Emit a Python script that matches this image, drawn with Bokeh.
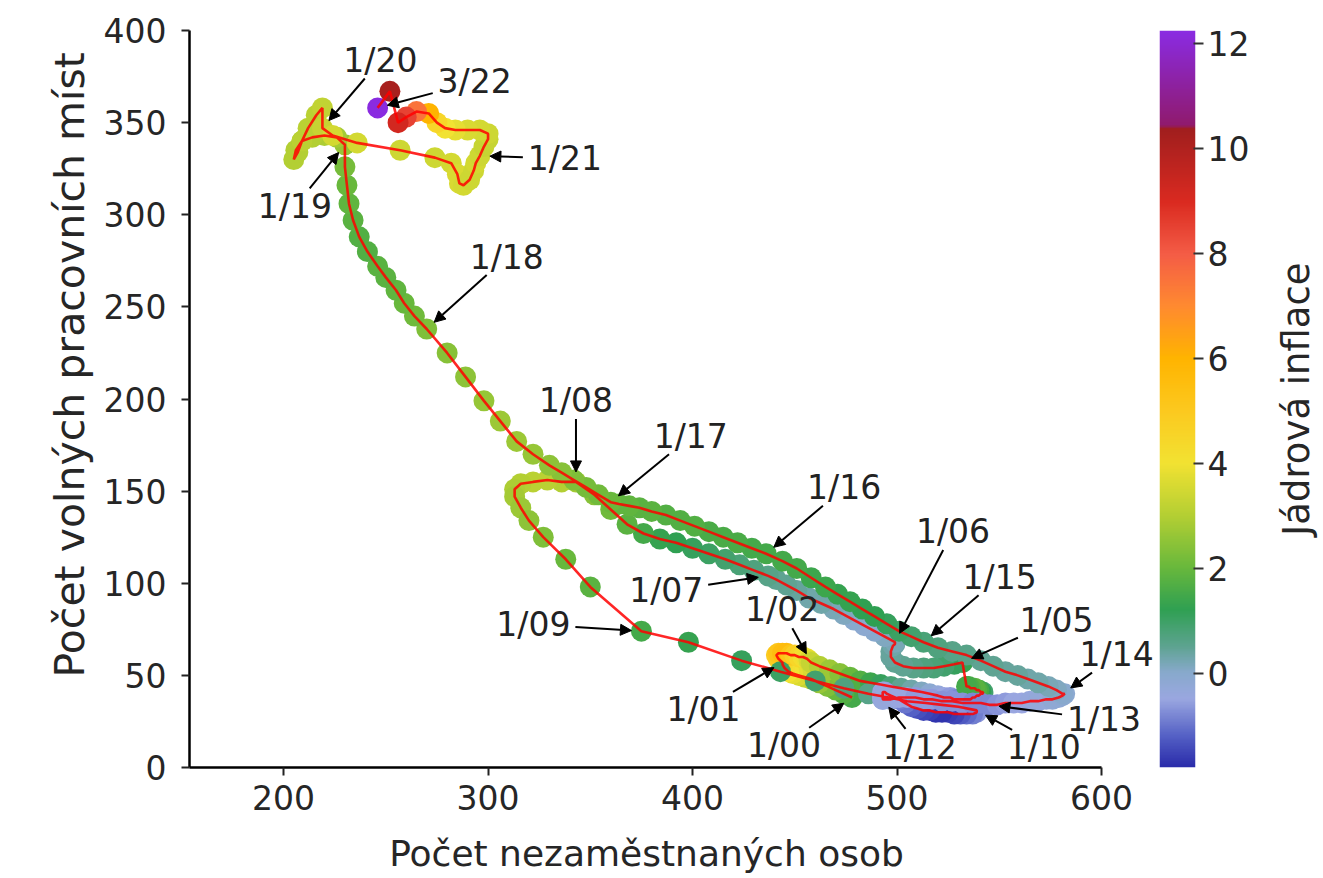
import numpy as np
from bokeh.plotting import figure
from bokeh.models import (ColumnDataSource, LinearColorMapper, Range1d, FixedTicker,
                          Arrow, NormalHead, Label, Title)
from bokeh.layouts import row
from bokeh.embed import file_html
from bokeh.resources import INLINE

# ---------------- data (monthly, 1/2000 .. 3/2022) ----------------
# unemployed persons (thousands)
unemployed = [
    478, 474, 470, 466, 462, 458, 455, 452, 449, 447, 445, 444,   # 2000
    444, 442, 441, 442, 444, 446, 448, 450, 452, 454, 456, 457,   # 2001
    458, 462, 467, 472, 477, 482, 487, 492, 497, 502, 507, 512,   # 2002
    516, 520, 523, 526, 528, 530, 532, 534, 536, 537, 538, 539,   # 2003
    540, 541, 542, 542, 541, 540, 539, 538, 537, 536, 535, 534,   # 2004
    532, 528, 523, 518, 513, 508, 503, 499, 497, 497, 498, 499,   # 2005
    499, 494, 489, 484, 479, 474, 469, 463, 457, 451, 446, 441,   # 2006
    437, 430, 423, 416, 408, 400, 392, 384, 376, 368, 360, 352,   # 2007
    343, 336, 329, 322, 316, 313, 313, 316, 320, 327, 338, 350,   # 2008
    375, 398, 424, 443, 460, 474, 486, 496, 505, 514, 522, 530,   # 2009
    539, 539, 537, 534, 531, 528, 525, 522, 519, 516, 513, 510,   # 2010
    507, 504, 501, 499, 497, 495, 494, 493, 493, 493, 493, 493,   # 2011
    493, 497, 501, 505, 509, 513, 517, 522, 527, 532, 537, 541,   # 2012
    545, 549, 553, 557, 561, 565, 569, 573, 576, 579, 581, 582,   # 2013
    581, 578, 574, 569, 564, 559, 553, 547, 541, 534, 527, 520,   # 2014
    513, 507, 501, 495, 489, 483, 477, 471, 465, 458, 451, 444,   # 2015
    436, 429, 422, 415, 408, 401, 394, 387, 380, 374, 369, 364,   # 2016
    360, 354, 348, 342, 336, 330, 322, 314, 306, 298, 289, 280,   # 2017
    270, 264, 259, 255, 250, 246, 241, 237, 234, 232, 231, 230,   # 2018
    230, 226, 220, 214, 209, 206, 205, 207, 209, 212, 216, 219,   # 2019
    219, 224, 236, 257, 274, 282, 285, 286, 288, 291, 293, 294,   # 2020
    296, 298, 300, 300, 296, 290, 284, 279, 275, 271, 265, 260,   # 2021
    256, 252, 246,                                                # 2022
]
# vacancies (thousands)
vacancies = [
    38, 40, 42, 44, 46, 48, 49, 50, 51, 52, 54, 56,
    57, 59, 61, 62, 62, 62, 61, 61, 60, 60, 59, 58,
    57, 55, 53, 51, 49, 47, 46, 45, 44, 43, 42, 41,
    40, 39, 38, 38, 37, 37, 37, 37, 37, 38, 38, 39,
    39, 40, 40, 41, 41, 42, 42, 43, 43, 43, 44, 44,
    57, 56, 55, 54, 54, 54, 55, 57, 60, 63, 66, 67,
    68, 71, 74, 77, 80, 83, 86, 89, 92, 96, 99, 102,
    104, 107, 110, 113, 116, 119, 122, 124, 127, 132, 140, 148,
    155, 155, 156, 155, 154, 151, 147, 141, 134, 125, 113, 98,
    74, 68, 58, 52, 47, 43, 40, 38, 36, 35, 34, 33,
    31, 30, 29, 29, 29, 29, 30, 30, 30, 31, 31, 32,
    33, 35, 37, 38, 39, 40, 41, 41, 40, 39, 38, 37,
    37, 37, 38, 38, 38, 37, 37, 36, 36, 35, 35, 35,
    34, 34, 35, 35, 35, 36, 36, 37, 37, 38, 39, 40,
    40, 42, 44, 46, 48, 50, 52, 55, 58, 61, 63, 65,
    68, 71, 74, 78, 82, 86, 90, 94, 98, 103, 108, 112,
    116, 119, 122, 125, 128, 131, 134, 137, 139, 141, 142, 143,
    144, 148, 152, 156, 160, 164, 170, 177, 188, 199, 212, 225,
    238, 245, 252, 259, 266, 272, 280, 288, 297, 306, 316, 326,
    338, 342, 343, 342, 340, 335, 330, 334, 340, 347, 354, 358,
    347, 343, 339, 335, 331, 328, 322, 317, 316, 319, 324, 328,
    332, 337, 341, 344, 346, 346, 346, 347, 350, 355, 356, 353,
    350, 367, 358,
]
# core inflation (%)
core_inflation = [
    1.5, 1.7, 2.0, 2.3, 2.6, 3.0, 3.3, 3.6, 3.8, 4.0, 4.1, 4.2,
    4.4, 4.6, 4.9, 5.2, 5.5, 5.6, 5.2, 4.8, 4.5, 4.2, 3.9, 3.6,
    3.3, 3.0, 2.7, 2.4, 2.0, 1.7, 1.4, 1.1, 0.8, 0.5, 0.3, 0.1,
    -0.1, -0.3, -0.5, -0.6, -0.7, -0.8, -0.8, -0.7, -0.6, -0.5, -0.3, -0.2,
    0.0, 0.3, 0.6, 0.9, 1.2, 1.5, 1.7, 1.8, 1.8, 1.7, 1.6, 1.5,
    1.3, 1.1, 0.9, 0.8, 0.7, 0.6, 0.5, 0.5, 0.4, 0.4, 0.3, 0.3,
    0.2, 0.1, 0.0, -0.1, 0.0, 0.1, 0.2, 0.3, 0.3, 0.4, 0.5, 0.5,
    0.6, 0.7, 0.8, 0.9, 1.0, 1.1, 1.2, 1.3, 1.5, 1.8, 2.1, 2.4,
    2.8, 3.0, 3.1, 3.1, 3.0, 2.9, 2.8, 2.7, 2.5, 2.3, 2.0, 1.8,
    1.5, 1.3, 1.1, 1.0, 0.9, 0.7, 0.6, 0.5, 0.3, 0.1, -0.1, -0.3,
    -0.5, -0.7, -0.9, -1.1, -1.3, -1.5, -1.6, -1.7, -1.7, -1.6, -1.5, -1.4,
    -1.2, -1.0, -0.9, -0.8, -0.7, -0.6, -0.6, -0.5, -0.5, -0.4, -0.4, -0.4,
    -0.4, -0.4, -0.5, -0.5, -0.6, -0.6, -0.6, -0.7, -0.7, -0.7, -0.8, -0.8,
    -0.8, -0.7, -0.6, -0.5, -0.5, -0.4, -0.3, -0.3, -0.2, -0.2, -0.1, -0.1,
    0.0, 0.1, 0.2, 0.3, 0.3, 0.4, 0.4, 0.5, 0.5, 0.6, 0.6, 0.7,
    0.8, 0.9, 1.0, 1.1, 1.2, 1.2, 1.3, 1.3, 1.4, 1.4, 1.5, 1.5,
    1.5, 1.5, 1.6, 1.6, 1.6, 1.7, 1.7, 1.7, 1.8, 1.8, 1.9, 1.9,
    2.0, 2.1, 2.2, 2.3, 2.4, 2.5, 2.6, 2.7, 2.7, 2.6, 2.5, 2.4,
    2.3, 2.1, 2.0, 1.9, 1.8, 1.8, 1.7, 1.7, 1.8, 1.9, 2.0, 2.2,
    2.6, 2.8, 2.9, 3.0, 3.0, 3.0, 3.0, 3.0, 3.1, 3.1, 3.1, 3.2,
    3.3, 3.5, 3.5, 3.4, 3.4, 3.5, 3.6, 3.6, 3.5, 3.4, 3.4, 3.5,
    3.4, 3.3, 3.3, 3.4, 3.5, 3.6, 3.8, 4.0, 4.5, 6.0, 7.5, 8.5,
    9.2, 10.2, 12.2,
]
start_year = 2000
month_labels = [f"{i % 12 + 1}/{(start_year + i // 12) % 100:02d}" for i in range(len(unemployed))]

ann_labels = ["1/00", "1/01", "1/02", "1/05", "1/06", "1/07", "1/08", "1/09", "1/10", "1/12",
              "1/13", "1/14", "1/15", "1/16", "1/17", "1/18", "1/19", "1/20", "1/21", "3/22"]

cbar_ticks = [0, 2, 4, 6, 8, 10, 12]
x_ticks = [200, 300, 400, 500, 600]
y_ticks = [0, 50, 100, 150, 200, 250, 300, 350, 400]

x_title = "Počet nezaměstnaných osob"
y_title = "Počet volných pracovních míst"
c_title = "Jádrová inflace"

# ---------------- style ----------------
FONT = "DejaVu Sans"
TXT = "#262626"
X0, X1, Y0, Y1 = 154, 600, 0, 400
C0, C1 = -1.8, 12.25
FW0, FH = 912, 738          # frame width of the 154..600 span, frame height
EXTRA = 56                  # free room right of x=600 for the labels
sx, sy = FW0 / (X1 - X0), FH / (Y1 - Y0)
XE = X1 + EXTRA / sx
FW = FW0 + EXTRA
H = 876
X_PAD = "\u2003\u2002"      # em + en space: keeps the x title centred on the 154..600 span

# label offsets (screen px, text centre relative to point; +y = down)
ann_offset = {
    "1/00": (-68, 48), "1/01": (-79, 47), "1/02": (-29, -53), "1/05": (94, -42),
    "1/06": (58, -111), "1/07": (-102, 15), "1/08": (0, -82), "1/09": (-108, -7),
    "1/10": (67, 37), "1/12": (37, 48), "1/13": (115, 15), "1/14": (54, -39),
    "1/15": (76, -65), "1/16": (78, -66), "1/17": (80, -66), "1/18": (80, -72),
    "1/19": (-50, 62), "1/20": (58, -68), "1/21": (85, 3), "3/22": (97, -26),
}

stops = [(-1.8, "#2a2caa"), (-1.2, "#5662c6"), (-0.5, "#9aa7e0"), (0.0, "#88a9cc"),
         (0.5, "#5da390"), (1.2, "#2fa052"), (2.0, "#68b83c"), (3.0, "#b4cf33"),
         (4.0, "#f2e232"), (5.0, "#fcc91f"), (6.0, "#ffb400"), (7.0, "#ff8a30"),
         (8.0, "#f45c46"), (9.0, "#da2a20"), (10.4, "#a01e1e"), (10.45, "#901a6c"),
         (12.25, "#8a2be2")]


def hex2rgb(h):
    return np.array([int(h[i:i + 2], 16) for i in (1, 3, 5)], dtype=float)


sv = np.array([s[0] for s in stops])
sc = np.array([hex2rgb(s[1]) for s in stops])
palette = []
for v in np.linspace(C0, C1, 512):
    rgb = [np.interp(v, sv, sc[:, k]) for k in range(3)]
    palette.append("#%02x%02x%02x" % tuple(int(round(c)) for c in rgb))

mapper = LinearColorMapper(palette=palette, low=C0, high=C1)

# ---------------- main figure ----------------
p = figure(width=189 + FW, height=H, x_range=Range1d(X0, XE), y_range=Range1d(Y0, Y1),
           output_backend="svg", toolbar_location=None,
           min_border_left=189, min_border_right=0, min_border_top=30,
           min_border_bottom=H - 30 - FH)
p.grid.visible = False
p.outline_line_color = None
p.background_fill_color = "white"

src = ColumnDataSource(dict(x=unemployed, y=vacancies, c=core_inflation, m=month_labels))
p.scatter("x", "y", source=src, size=21, line_color=None,
          fill_color={"field": "c", "transform": mapper})
p.line("x", "y", source=src, line_color="red", line_width=2.6, line_alpha=0.85)

for ax, ticks in ((p.xaxis, x_ticks), (p.yaxis, y_ticks)):
    ax.ticker = FixedTicker(ticks=ticks)
    ax.minor_tick_line_color = None
    ax.major_tick_in = 0
    ax.major_tick_out = 8
    ax.major_tick_line_width = 2
    ax.major_tick_line_color = "#222222"
    ax.axis_line_width = 2.5
    ax.axis_line_color = "black"
    ax.major_label_text_font = FONT
    ax.major_label_text_font_size = "33px"
    ax.major_label_text_color = TXT
p.xaxis.bounds = (X0, X1)
p.xaxis.major_label_standoff = 9
p.yaxis.major_label_standoff = 15

p.xaxis.axis_label = x_title + X_PAD
p.xaxis.axis_label_standoff = 20
p.xaxis.axis_label_text_font = FONT
p.xaxis.axis_label_text_font_size = "36px"
p.xaxis.axis_label_text_font_style = "normal"
p.xaxis.axis_label_text_color = TXT

p.add_layout(Title(text=y_title, align="left", offset=90, standoff=14,
                   text_font=FONT, text_font_size="41px", text_font_style="normal",
                   text_color=TXT), "left")

# annotations
idx_of = {m: i for i, m in enumerate(month_labels)}
for lab in ann_labels:
    i = idx_of[lab]
    px, py = (unemployed[i] - X0) * sx, (vacancies[i] - Y0) * sy
    dx, dy = ann_offset[lab]
    tx, ty = px + dx, py - dy
    vx, vy = px - tx, py - ty
    L = np.hypot(vx, vy)
    ux, uy = vx / L, vy / L
    hw, hh = 39.0, 16.0
    t = min(hw / abs(vx) if abs(vx) > 1e-6 else 1e9, hh / abs(vy) if abs(vy) > 1e-6 else 1e9)
    sxp, syp = tx + vx * t + ux * 3, ty + vy * t + uy * 3
    exp_, eyp = px - ux * 10, py - uy * 10
    p.add_layout(Arrow(end=NormalHead(size=11, fill_color="black", line_color="black", line_width=1),
                       x_start=X0 + sxp / sx, y_start=Y0 + syp / sy,
                       x_end=X0 + exp_ / sx, y_end=Y0 + eyp / sy,
                       line_color="black", line_width=2))
    p.add_layout(Label(x=X0 + tx / sx, y=Y0 + ty / sy, text=lab, text_align="center",
                       text_baseline="middle", text_font=FONT, text_font_size="33px",
                       text_color="#222222"))

# ---------------- colour bar figure ----------------
CB_TOP, CB_H = 27, 743
cb = figure(width=100, height=H, x_range=Range1d(0, 1), y_range=Range1d(C0, C1),
            output_backend="svg", toolbar_location=None, x_axis_location=None,
            y_axis_location="right",
            min_border_left=2, min_border_right=62, min_border_top=CB_TOP,
            min_border_bottom=H - CB_TOP - CB_H)
cb.grid.visible = False
cb.outline_line_color = None
grad = np.linspace(C0, C1, 1000).reshape(-1, 1)
cb.image(image=[grad], x=0, y=C0, dw=1, dh=C1 - C0, color_mapper=mapper)
cb.yaxis.ticker = FixedTicker(ticks=cbar_ticks)
cb.yaxis.axis_line_color = None
cb.yaxis.minor_tick_line_color = None
cb.yaxis.major_tick_in = 2
cb.yaxis.major_tick_out = 8
cb.yaxis.major_tick_line_width = 2
cb.yaxis.major_tick_line_color = "#333333"
cb.yaxis.major_label_text_font = FONT
cb.yaxis.major_label_text_font_size = "33px"
cb.yaxis.major_label_text_color = TXT
cb.yaxis.major_label_standoff = 4

# ---------------- colour bar title (left-axis label of a thin figure) ----------------
tt = figure(width=64, height=H, x_range=Range1d(0, 1), y_range=Range1d(0, 1),
            output_backend="svg", toolbar_location=None, x_axis_location=None,
            y_axis_location="left",
            min_border_left=60, min_border_right=0, min_border_top=CB_TOP,
            min_border_bottom=H - CB_TOP - CB_H)
tt.grid.visible = False
tt.outline_line_color = None
tt.yaxis.ticker = FixedTicker(ticks=[])
tt.yaxis.axis_line_color = None
tt.yaxis.major_tick_out = 0
tt.yaxis.major_tick_in = 0
tt.yaxis.minor_tick_line_color = None
tt.yaxis.major_label_standoff = 0
tt.yaxis.axis_label = c_title
tt.yaxis.axis_label_standoff = 0
tt.yaxis.axis_label_text_font = FONT
tt.yaxis.axis_label_text_font_size = "37px"
tt.yaxis.axis_label_text_font_style = "normal"
tt.yaxis.axis_label_text_color = TXT

layout = row(p, cb, tt)
open("out.html", "w").write(file_html(layout, INLINE))
